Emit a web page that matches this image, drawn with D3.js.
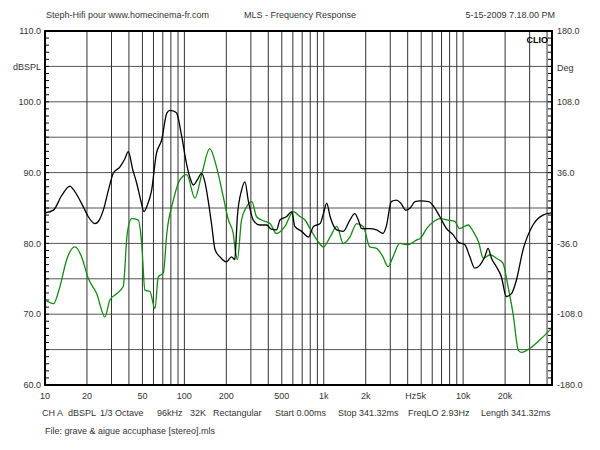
<!DOCTYPE html>
<html><head><meta charset="utf-8">
<script src="https://cdn.jsdelivr.net/npm/d3@7"></script>
<style>
html,body{margin:0;padding:0;background:#fff;}
text{font-family:"Liberation Sans",Arial,sans-serif;font-size:9px;fill:#333;}
</style></head>
<body><svg id="c" width="600" height="450"></svg>
<script>
// ---- data ----
const freqGrid = [20,30,40,50,60,70,80,90,100,200,300,400,500,600,700,800,900,1000,2000,3000,4000,5000,6000,7000,8000,9000,10000,20000,30000,40000];
const xTickVals = [10,20,50,100,200,500,1000,2000,5000,10000,20000];
const xTickLabels = ["10","20","50","100","200","500","1k","2k","5k","10k","20k"];
const yTickVals = [60,70,80,90,100,110];
const yTickLabels = ["60.0","70.0","80.0","90.0","100.0","110.0"];
const phaseTickVals = [-180,-108,-36,36,108,180];
const phaseTickLabels = ["-180.0","-108.0","-36.0","36.0","108.0","180.0"];

const blackFreq = [10,11.5,13.2,15.1,16.0,18.8,20.4,22.8,24.5,26.2,28.5,30.9,34.5,37.5,39.6,42.6,45.5,48.6,51.3,54.2,58.2,63,68.7,74.8,78.8,83,88,95.7,104,110,116,124,133,141,148,157,166,180,200,218,230,235,240,257,272,287,312,348,389,420,458,485,542,590,620,694,777,844,942,994,1050,1110,1240,1380,1540,1670,1770,1870,2140,2390,2660,2810,3050,3320,3560,3880,4170,4520,4920,5660,6160,6790,7600,8490,9220,10290,11170,12120,13160,14290,15100,15960,17330,18800,20400,22200,24100,26900,31700,37400,43000];
const blackDb = [84.3,84.7,86.8,88.1,87.6,85.2,83.8,82.8,83.3,84.7,87.5,89.9,90.8,92.0,92.95,90.4,88.5,86.1,84.5,85.4,87.5,92.7,94.6,98.4,98.8,98.7,98.4,95.1,91.1,89.2,88.25,89.0,89.9,88.5,86.1,82.6,79.1,78.1,77.4,78.1,77.7,80.5,83.8,87.5,88.7,86.1,83.3,82.6,82.6,82.0,81.9,83.3,83.8,84.5,82.4,81.7,80.9,82.4,82.8,84.2,85.7,83.8,81.9,81.7,83.3,84.2,83.3,82.1,82.1,81.9,81.4,82.4,85.9,86.1,85.7,84.7,85.0,85.9,86.0,85.9,85.2,83.8,82.1,81.2,80.2,79.8,78.1,76.5,76.9,78.1,79.3,77.9,76.7,75.3,72.5,72.9,74.8,79.1,82.6,84.0,84.3];

const greenFreq = [10,11.5,12.8,14.3,16.4,18.3,20.4,23.5,26.9,29.2,32.6,36.4,38.9,41.8,46.7,49.4,52.1,56.6,61.5,65,70.6,74.8,83.3,93,104,119,133,152,170,190,207,224,232,240,257,280,305,329,358,412,458,527,604,675,734,797,915,994,1110,1240,1380,1540,1720,1920,2140,2390,2660,2890,3140,3500,4000,4660,4920,5520,6160,6790,7780,8720,9420,10870,11800,12900,13950,15600,17330,19300,21000,22800,24900,26300,30200,37400,43000];
const greenDb = [72.0,71.5,73.9,77.7,79.5,78.1,75.1,72.9,69.6,72.0,72.9,73.9,81.4,83.5,83.3,80.0,73.4,73.2,70.8,75.3,75.8,81.4,86.1,89.0,89.7,86.4,89.7,93.4,90.8,86.6,83.3,81.4,79.0,77.7,83.3,85.2,85.9,83.8,83.3,82.8,81.4,82.4,84.5,83.8,83.3,82.1,80.2,79.5,80.9,82.4,80.0,80.9,82.8,82.4,79.5,79.3,78.1,76.7,78.1,80.0,79.8,80.5,80.7,82.2,83.1,83.5,83.3,83.1,82.1,82.6,81.7,80.2,77.9,78.4,77.9,77.2,73.9,70.1,64.9,64.6,65.2,66.8,68.0];

const infoItems = ["CH A","dBSPL","1/3 Octave","96kHz","32K","Rectangular","Start 0.00ms","Stop 341.32ms","FreqLO 2.93Hz","Length 341.32ms"];
const infoX = [42,68,100,157,190,213,275,338,408,481];

// ---- layout ----
const L = 45, R = 552, T = 31, B = 385;
const svg = d3.select("#c");
svg.append("rect").attr("width",600).attr("height",450).attr("fill","#fff");

const x = d3.scaleLog().domain([10, 43400]).range([L, R]);
const y = d3.scaleLinear().domain([60, 110]).range([B, T]);
const yp = d3.scaleLinear().domain([-180, 180]).range([B, T]);

// horizontal grid every 5 dB
const hGrid = d3.range(65, 110, 5);
svg.append("g").selectAll("line").data(hGrid).join("line")
  .attr("x1", L).attr("x2", R).attr("y1", d => y(d)).attr("y2", d => y(d))
  .attr("stroke", "#555").attr("stroke-width", 1);

// vertical grid
svg.append("g").selectAll("line").data(freqGrid).join("line")
  .attr("x1", d => x(d)).attr("x2", d => x(d)).attr("y1", T).attr("y2", B)
  .attr("stroke", "#333").attr("stroke-width", 1);

// minor ticks left/right every 1 dB
const minor = d3.range(61, 110, 1);
svg.append("g").selectAll("line").data(minor).join("line")
  .attr("x1", L).attr("x2", L + 4).attr("y1", d => y(d)).attr("y2", d => y(d))
  .attr("stroke", "#000").attr("stroke-width", 1);
svg.append("g").selectAll("line").data(minor).join("line")
  .attr("x1", R - 4).attr("x2", R).attr("y1", d => y(d)).attr("y2", d => y(d))
  .attr("stroke", "#000").attr("stroke-width", 1);

// clip
svg.append("clipPath").attr("id","clip").append("rect")
  .attr("x", L).attr("y", T).attr("width", R - L).attr("height", B - T);

const line = d3.line().x(d => x(d[0])).y(d => y(d[1])).curve(d3.curveMonotoneX);
const gC = svg.append("g").attr("clip-path","url(#clip)");
gC.append("path").datum(greenFreq.map((f,i)=>[f,greenDb[i]]))
  .attr("d", line).attr("fill","none").attr("stroke","#138a13").attr("stroke-width",1.3);
gC.append("path").datum(blackFreq.map((f,i)=>[f,blackDb[i]]))
  .attr("d", line).attr("fill","none").attr("stroke","#000").attr("stroke-width",1.3);

// frame
svg.append("rect").attr("x", L).attr("y", T).attr("width", R - L).attr("height", B - T)
  .attr("fill","none").attr("stroke","#000").attr("stroke-width",2);

// axes labels
svg.append("g").selectAll("text").data(yTickVals).join("text")
  .attr("x", 41).attr("y", d => y(d)).attr("dy","0.35em").attr("text-anchor","end")
  .text((d,i) => yTickLabels[i]);
svg.append("g").selectAll("text").data(phaseTickVals).join("text")
  .attr("x", 557).attr("y", d => yp(d)).attr("dy","0.35em").attr("text-anchor","start")
  .text((d,i) => phaseTickLabels[i]);
svg.append("g").selectAll("text").data(xTickVals).join("text")
  .attr("x", d => x(d)).attr("y", 399).attr("text-anchor","middle")
  .text((d,i) => xTickLabels[i]);
svg.append("text").attr("x", x(5000) - 5).attr("y", 399).attr("text-anchor","end").text("Hz");

svg.append("text").attr("x", 41).attr("y", 70).attr("text-anchor","end").text("dBSPL");
svg.append("text").attr("x", 557).attr("y", 71).attr("text-anchor","start").text("Deg");
svg.append("text").attr("x", 548).attr("y", 43).attr("text-anchor","end")
  .style("font-weight","bold").style("fill","#000").text("CLIO");

// header
svg.append("text").attr("x", 46).attr("y", 18).text("Steph-Hifi pour www.homecinema-fr.com");
svg.append("text").attr("x", 244).attr("y", 18).text("MLS - Frequency Response");
svg.append("text").attr("x", 555).attr("y", 18).attr("text-anchor","end").text("5-15-2009 7.18.00 PM");

// info
svg.append("g").selectAll("text").data(infoItems).join("text")
  .attr("x", (d,i) => infoX[i]).attr("y", 416).text(d => d);
svg.append("text").attr("x", 45).attr("y", 434).text("File: grave & aigue accuphase [stereo].mls");
</script></body></html>
